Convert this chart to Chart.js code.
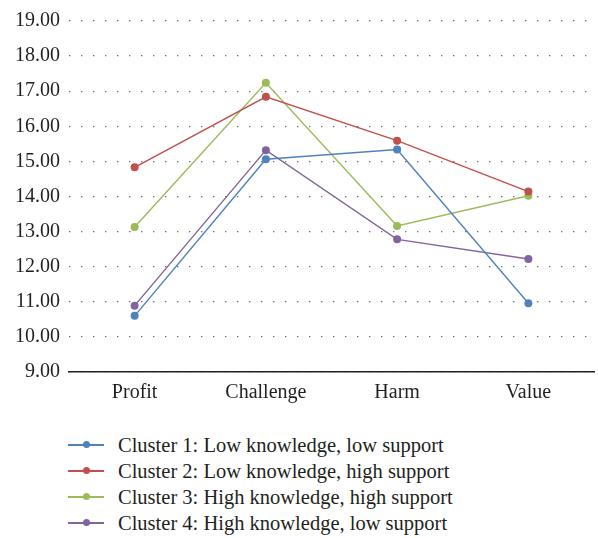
<!DOCTYPE html>
<html>
<head>
<meta charset="utf-8">
<script src="https://cdn.jsdelivr.net/npm/chart.js@4"></script>
<style>
  html, body { margin: 0; padding: 0; background: #fff; }
  #wrap { position: relative; width: 598px; height: 538px; }
  #chartBox { position: absolute; left: 0; top: 0; width: 598px; height: 412px; }
  #legend { position: absolute; left: 68px; top: 432px; font-family: "Liberation Serif", "DejaVu Serif", serif; font-size: 20.5px; color: #231f20; }
  .item { height: 26px; line-height: 26px; display: flex; align-items: center; }
  .sym { position: relative; width: 36px; height: 2px; margin-right: 14px; }
  .sym i { position: absolute; left: 15px; top: -3px; width: 7px; height: 7px; border-radius: 50%; }
</style>
</head>
<body>
<div id="wrap">
  <div id="chartBox"><canvas id="chart"></canvas></div>
  <div id="legend"></div>
</div>
<script>
const categories = ['Profit', 'Challenge', 'Harm', 'Value'];
const seriesNames = [
  'Cluster 1: Low knowledge, low support',
  'Cluster 2: Low knowledge, high support',
  'Cluster 3: High knowledge, high support',
  'Cluster 4: High knowledge, low support'
];
const cluster1 = [10.60, 15.06, 15.34, 10.96];
const cluster2 = [14.83, 16.84, 15.59, 14.14];
const cluster3 = [13.13, 17.24, 13.16, 14.02];
const cluster4 = [10.89, 15.32, 12.78, 12.22];
const colors = ['#4f81bd', '#c0504d', '#9bbb59', '#8064a2'];

const font = { family: '"Liberation Serif", "DejaVu Serif", serif', size: 20 };
const values = [cluster1, cluster2, cluster3, cluster4];

const datasets = values.map((v, i) => ({
  label: seriesNames[i],
  data: v,
  borderColor: colors[i],
  backgroundColor: colors[i],
  borderWidth: 1.4,
  pointRadius: 4,
  pointHoverRadius: 4,
  pointBorderWidth: 0,
  tension: 0
}));

new Chart(document.getElementById('chart'), {
  type: 'line',
  data: { labels: categories, datasets },
  options: {
    responsive: true,
    maintainAspectRatio: false,
    animation: false,
    layout: { padding: { top: 5, right: 0, bottom: 0, left: 0 } },
    plugins: { legend: { display: false }, tooltip: { enabled: false } },
    scales: {
      x: {
        offset: true,
        grid: { display: false, drawTicks: false },
        border: { display: true, color: '#231f20', width: 1.5 },
        ticks: { font, color: '#231f20', padding: 9 },
        afterFit: (s) => { s.height = 40; }
      },
      y: {
        min: 9,
        max: 19,
        ticks: { stepSize: 1, font, color: '#231f20', padding: 9, callback: (v) => Number(v).toFixed(2) },
        grid: { color: '#707070', lineWidth: 1.3, drawTicks: false },
        border: { display: false, dash: [1.4, 10.6] },
        afterFit: (s) => { s.width = 69; }
      }
    }
  }
});

document.getElementById('legend').innerHTML = seriesNames.map((n, i) => `
  <div class="item"><span class="sym" style="background:${colors[i]}"><i style="background:${colors[i]}"></i></span>${n}</div>
`).join('');
</script>
</body>
</html>
